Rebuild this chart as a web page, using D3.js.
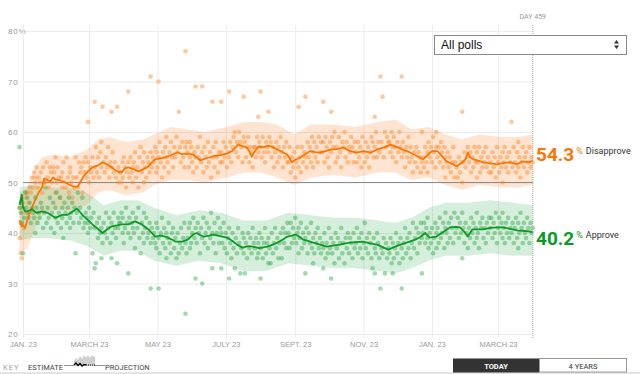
<!DOCTYPE html>
<html lang="en">
<head>
<meta charset="utf-8">
<title>Approval rating</title>
<script src="https://d3js.org/d3.v7.min.js"></script>
<style>
  body { margin: 0; background: #fff; }
  svg { display: block; font-family: Roboto, "Liberation Sans", sans-serif; }
</style>
</head>
<body>
<svg width="640" height="374"></svg>
<script>
// day 0 = Jan. 20, 2017, last day (458) = today
const disDay = [0,2,3,5,7,10,14,17,20,22,
  24,27,30,32,36,41,44,48,52,55,
  57,61,65,70,74,78,82,87,91,94,
  97,102,106,110,115,118,121,126,130,135,
  141,145,150,155,158,161,167,173,179,185,
  190,195,199,203,205,207,210,213,218,222,
  226,230,235,239,243,246,250,255,259,264,
  268,273,277,283,289,295,301,307,313,320,
  326,331,337,342,348,355,360,364,368,373,
  377,381,386,390,394,398,400,402,405,410,
  414,420,426,432,438,444,449,454,458];
const disValue = [42.5,41.3,41.5,41.0,42.7,44.5,46.6,48.0,49.0,50.8,
  50.6,50.2,51.0,50.6,50.4,50.0,49.6,49.2,49.2,50.4,
  51.2,52.2,53.0,53.4,54.0,53.6,53.0,52.2,52.0,52.8,
  53.0,52.6,52.2,52.6,53.2,54.0,54.6,54.8,55.0,55.4,
  56.0,55.6,55.7,55.5,55.0,54.4,54.8,55.2,55.4,55.7,
  56.3,57.5,57.2,56.9,56.2,55.1,56.2,57.1,57.0,57.3,
  57.0,56.5,56.0,55.5,54.0,54.5,54.9,55.6,56.2,56.0,
  55.9,56.2,56.5,56.6,56.9,56.2,55.9,56.2,55.9,56.6,
  57.0,57.5,57.0,56.5,56.0,55.2,54.6,55.4,56.2,56.2,
  55.2,54.2,53.7,53.2,53.8,54.6,55.9,55.0,54.6,54.3,
  54.0,53.8,53.6,53.9,54.0,53.6,54.2,54.0,54.3];

const appDay = [0,2,3,5,7,11,15,20,25,29,
  32,35,38,43,47,51,53,56,60,65,
  70,74,78,82,87,91,97,103,106,109,
  115,118,121,126,130,135,139,145,150,155,
  158,161,164,169,173,179,185,190,194,199,
  204,208,214,221,226,230,235,239,243,246,
  250,253,258,262,268,274,280,286,290,295,
  300,306,312,319,324,329,334,340,344,348,
  353,357,362,366,372,378,384,389,393,397,
  400,404,409,414,420,426,432,438,444,451,
  458];
const appValue = [45.6,47.6,45.2,44.3,44.3,44.7,44.0,44.3,44.0,43.4,
  43.0,43.3,43.6,43.6,44.2,44.8,44.4,43.6,42.8,41.7,
  40.8,40.0,40.7,41.3,41.5,41.7,41.7,42.3,42.0,41.7,
  40.7,40.0,39.3,39.5,39.3,38.8,38.3,38.3,38.7,39.7,
  40.0,39.6,39.3,39.5,39.7,39.4,39.1,38.4,37.7,37.1,
  37.4,37.3,37.0,37.3,37.7,38.1,38.7,39.3,39.5,39.7,
  39.2,38.7,38.4,38.1,37.7,37.3,37.5,37.7,37.9,38.1,
  38.2,38.3,38.0,37.7,37.2,36.7,37.2,37.7,38.0,38.3,
  38.7,39.1,40.0,39.1,39.3,40.2,41.1,41.2,41.1,40.2,
  39.3,40.7,40.7,40.7,41.0,41.1,41.1,40.8,40.5,40.4,
  40.2];

const disBandDay  = [0,7,14,20,30,45,60,70,80,95,110,120,135,150,165,185,200,215,230,245,260,280,300,320,335,350,365,380,395,410,430,445,458];
const disBandLow  = [36,37,41,43.5,44.5,44.5,45.5,48,48.5,47.5,48,49.5,50.5,50.5,50,51,52,52,51,49.5,51,51.5,51,52,52,50.5,51,49.5,48.5,49.5,49,49,49.5];
const disBandHigh = [48,49,53,55,55.5,55,56.5,58.5,59,58,58.5,59.5,61,60.5,60,61,62,62,61.5,59.5,61.5,61.5,61,62,62.5,60.5,61,59.5,58.5,59.5,59,59,59.5];

const appBandDay  = [0,10,25,45,60,75,90,105,120,140,160,180,200,220,240,260,280,300,320,335,350,365,380,400,420,440,458];
const appBandLow  = [38.5,39,39,38.5,37.5,35.5,36.5,36.5,34.5,33.5,34.5,34,32.5,32.5,34,33.5,33,33,32.5,32,33,34.5,35.5,35.5,36,35.5,35.5];
const appBandHigh = [49,49.5,49,49,48,45.5,46.5,46.5,45,43.5,44.5,44,42.5,42.5,44,43.5,43,43,42.5,42,43,45,46,46,46.5,46,45.5];

// individual polls
const pollDay = [0,0,1,1,2,3,3,4,5,6,7,7,8,9,10,11,12,13,14,14,15,16,17,18,19,20,21,22,23,24,25,26,27,28,
  29,30,31,32,32,33,34,35,36,37,38,38,39,40,41,42,43,44,45,45,46,47,48,49,50,51,52,53,54,55,56,57,58,59,
  60,61,61,62,63,64,65,66,67,67,68,69,70,71,72,73,73,74,75,76,77,78,79,80,81,82,82,83,84,85,86,87,88,88,89,
  90,91,92,92,93,94,95,96,97,97,98,99,100,101,101,102,103,104,105,106,107,108,109,110,111,111,112,113,114,115,116,117,117,118,119,
  120,121,122,122,123,124,124,125,126,127,128,129,130,131,131,132,133,134,135,136,137,138,139,140,141,142,143,144,145,146,147,148,148,149,
  150,151,152,152,153,154,155,156,157,157,158,159,160,161,162,163,163,164,165,166,167,168,169,170,171,172,172,173,174,175,176,177,178,179,
  180,180,181,182,183,184,185,186,187,187,188,189,190,191,192,193,194,195,196,197,198,199,200,200,201,202,203,204,205,206,207,208,209,
  210,211,212,213,213,214,215,215,216,217,218,219,220,221,222,222,223,224,225,226,227,228,229,230,231,232,233,234,235,236,237,238,239,
  240,241,242,243,244,245,246,247,248,249,249,250,251,252,253,254,255,255,256,257,258,259,260,261,262,262,263,264,265,266,267,268,269,
  270,271,271,272,273,274,275,276,277,278,278,279,280,281,282,283,284,285,286,287,288,289,290,291,292,293,294,295,296,297,298,299,
  300,301,302,303,304,305,306,307,308,309,310,311,312,313,314,315,316,317,317,318,319,320,321,322,323,324,325,326,327,328,329,
  330,331,332,333,333,334,335,336,337,338,339,340,341,341,342,343,344,345,346,347,348,349,350,351,352,353,354,355,356,357,358,359,359,
  360,361,362,363,364,364,365,366,367,368,369,370,371,372,372,373,374,375,376,377,378,379,380,380,381,382,383,384,385,386,387,388,389,
  390,391,392,393,394,395,395,396,397,398,399,400,401,402,403,404,405,406,407,408,408,409,410,411,412,413,414,415,416,417,418,419,
  420,421,422,423,424,425,426,427,428,429,430,431,431,432,433,434,435,436,437,438,439,440,441,442,443,444,445,445,446,447,448,449,450,451,452,453,454,455,456,457,458];
const pollApprove = [45,57,44,46,42,45,36,43,48,45,44,47,43,46,42,45,44,43,40,47,45,42,44,43,46,45,41,44,49,42,45,43,47,41,
  44,46,40,45,43,48,42,44,47,41,45,43,39,46,44,42,45,47,43,41,44,46,42,45,36,44,48,42,45,43,47,41,42,44,
  43,40,42,45,41,43,36,44,33,41,34,42,39,43,40,35,41,38,42,40,44,39,41,43,38,35,42,40,44,41,39,34,43,41,42,
  42,44,40,43,38,41,45,42,32,40,43,39,42,44,41,40,37,43,41,45,39,36,42,40,44,38,41,43,39,40,42,29,38,41,39,
  40,38,42,37,41,29,39,36,40,43,38,41,37,40,35,39,42,38,36,40,41,37,39,35,40,36,38,41,37,39,42,24,38,36,
  39,41,37,42,38,40,43,39,31,41,38,42,40,36,41,30,39,43,38,40,42,37,41,39,44,33,40,38,42,36,40,43,38,41,
  33,40,38,42,37,40,36,39,31,41,38,35,40,37,33,39,36,41,38,32,37,40,36,39,32,38,35,40,37,39,36,41,38,
  37,39,35,38,36,40,31,37,39,35,38,41,36,38,34,39,37,34,40,36,38,41,37,39,35,38,40,35,41,38,40,37,42,
  40,37,42,38,41,39,43,38,40,36,41,39,42,37,40,38,32,39,41,36,40,38,42,37,34,39,36,40,38,41,37,39,36,
  38,33,37,40,35,38,36,41,37,31,39,36,38,34,40,37,39,35,38,41,36,38,34,39,37,40,36,39,38,35,40,37,
  38,41,36,39,37,40,35,38,42,37,39,36,40,38,35,33,39,32,37,36,40,38,35,29,37,36,39,32,38,35,37,
  36,39,34,32,38,35,37,40,36,38,34,39,29,37,35,38,41,36,39,37,40,35,38,42,37,39,41,36,40,38,42,32,39,
  40,42,38,41,39,43,37,40,38,41,36,39,42,40,37,41,38,43,39,40,42,37,41,44,40,38,42,39,43,41,38,44,40,
  41,43,39,42,40,35,44,41,38,42,40,37,41,39,43,40,42,38,41,44,39,40,37,42,41,43,39,41,38,42,40,43,
  41,43,39,42,40,44,38,41,43,40,42,39,44,41,38,42,40,43,39,41,40,42,38,41,43,39,42,37,40,44,41,38,42,40,39,43,41,38,42,40,41];
const pollDisapprove = [45,39,42,36,35,44,46,41,47,48,44,48,46,49,48,51,49,52,51,50,53,49,51,50,52,48,53,50,50,54,51,49,53,52,
  50,53,52,48,55,50,53,51,47,51,52,49,54,50,49,55,51,48,52,53,50,47,51,49,55,51,49,54,52,53,48,54,52,55,
  51,62,54,50,53,52,55,51,66,53,57,52,55,51,56,58,53,65,54,52,55,53,57,51,54,64,53,56,52,54,51,65,53,50,52,
  52,50,54,51,55,53,49,52,68,54,51,55,52,50,53,54,56,51,53,49,55,57,52,54,50,56,53,51,55,54,52,71,56,53,55,
  54,57,52,56,53,70,55,58,54,51,56,53,57,55,59,54,52,56,58,55,53,57,55,59,56,64,57,54,58,55,53,76,57,58,
  56,53,58,55,57,54,52,56,69,55,53,57,55,59,54,69,56,52,57,55,53,58,54,56,51,66,55,57,53,58,55,52,56,54,
  66,56,54,58,55,57,53,56,68,55,58,54,57,59,60,56,58,55,60,58,57,54,67,59,58,55,57,59,54,57,56,53,57,
  57,55,59,63,56,58,68,57,55,59,56,54,58,57,64,56,59,58,55,57,53,56,58,54,57,55,59,56,53,57,55,58,54,
  54,57,52,55,53,56,51,54,57,65,53,55,52,57,54,56,67,55,53,58,55,57,54,59,56,53,58,55,57,54,59,56,58,
  56,66,58,54,59,57,55,53,58,64,56,59,57,60,54,57,55,59,56,53,58,57,60,55,58,54,57,56,59,57,54,58,
  56,54,58,55,57,53,59,56,54,58,55,57,53,56,59,58,55,63,57,60,55,58,56,71,58,67,55,60,57,59,58,
  58,56,60,57,55,59,57,54,58,56,60,57,71,55,58,56,53,57,55,59,54,57,55,52,56,54,57,53,56,55,52,60,54,
  55,53,57,54,56,52,58,55,57,54,59,56,53,57,60,55,57,54,58,56,53,57,55,51,54,56,53,55,52,54,57,51,54,
  53,51,55,52,54,64,50,54,56,53,55,57,54,56,52,55,53,57,54,51,56,54,57,52,55,53,56,54,57,53,55,52,
  54,52,56,53,55,51,57,54,52,55,53,56,50,54,57,53,55,52,56,54,62,53,57,54,52,56,53,58,55,51,54,57,53,55,56,52,54,57,53,55,54];

const yTicks = [20, 30, 40, 50, 60, 70, 80];
const xTickDates = ['2017-01-23','2017-03-23','2017-05-23','2017-07-23','2017-09-23','2017-11-23','2018-01-23','2018-03-23'];
const xTickLabels = ['JAN. 23','MARCH 23','MAY 23','JULY 23','SEPT. 23','NOV. 23','JAN. 23','MARCH 23'];
const todayLabel = 'DAY 459';
const disLast = 54.3, appLast = 40.2;

const orange = '#ff7400', green = '#0a9a25';
const svg = d3.select('svg');
const start = new Date(2017, 0, 20);
const dayDate = d => d3.timeDay.offset(start, d);
const parse = d3.timeParse('%Y-%m-%d');

const xScale = d3.scaleTime().domain([start, dayDate(458)]).range([19.6, 532.8]);
const yScale = d3.scaleLinear().domain([20, 80]).range([334, 31]);
const gridLeft = xScale(parse(xTickDates[0]));
const xEnd = xScale(dayDate(458));

//gridlines + y labels
const yAxis = svg.append('g')
  .attr('transform', 'translate(' + gridLeft + ',0)')
  .call(d3.axisLeft(yScale).tickValues(yTicks).tickSize(-(xEnd - gridLeft))
    .tickFormat(d => d === 80 ? d + '%' : d));
yAxis.select('.domain').remove();
yAxis.selectAll('line').attr('stroke', '#ececec');
yAxis.selectAll('text').attr('x', 8 - gridLeft).attr('text-anchor', 'start')
  .attr('fill', '#9a9a9a').style('font-size', '8px').style('letter-spacing', '0.8px');

const xAxis = svg.append('g')
  .attr('transform', 'translate(0,338)')
  .call(d3.axisBottom(xScale).tickValues(xTickDates.map(parse)).tickSize(-313)
    .tickFormat((d, i) => xTickLabels[i]));
xAxis.select('.domain').remove();
xAxis.selectAll('line').attr('stroke', '#ececec');
xAxis.selectAll('text').attr('fill', '#9a9a9a').style('font-size', '7.5px').attr('y', 4);

// bands
function band(days, lo, hi, color, op) {
  const area = d3.area()
    .x((d, i) => xScale(dayDate(days[i])))
    .y0((d, i) => yScale(lo[i]))
    .y1((d, i) => yScale(hi[i]));
  svg.append('path').datum(days).attr('d', area).attr('fill', color).attr('fill-opacity', op);
}
band(disBandDay, disBandLow, disBandHigh, '#ff7a1a', 0.2);
band(appBandDay, appBandLow, appBandHigh, '#1aa83c', 0.18);

// 50% line
svg.append('line')
  .attr('x1', gridLeft).attr('x2', xEnd)
  .attr('y1', yScale(50)).attr('y2', yScale(50))
  .attr('stroke', '#8a8a8a').attr('stroke-width', 1);

// poll dots
const polls = pollDay.map((d, i) => ({day: d, app: pollApprove[i], dis: pollDisapprove[i]}));
svg.append('g').selectAll('circle').data(polls).join('circle')
  .attr('cx', d => xScale(dayDate(d.day)))
  .attr('cy', d => yScale(d.dis))
  .attr('r', 2.3)
  .attr('fill', '#ff8a2a').attr('fill-opacity', 0.46);
svg.append('g').selectAll('circle').data(polls).join('circle')
  .attr('cx', d => xScale(dayDate(d.day)))
  .attr('cy', d => yScale(d.app))
  .attr('r', 2.3)
  .attr('fill', '#25a240').attr('fill-opacity', 0.42);

// estimate lines
function trend(days, vals, color) {
  const line = d3.line()
    .x((d, i) => xScale(dayDate(days[i])))
    .y((d, i) => yScale(vals[i]));
  svg.append('path').datum(days).attr('d', line)
    .attr('fill', 'none').attr('stroke', color).attr('stroke-width', 1.8)
    .attr('stroke-linejoin', 'round');
}
trend(disDay, disValue, orange);
trend(appDay, appValue, green);

// today line
svg.append('line')
  .attr('x1', xEnd).attr('x2', xEnd).attr('y1', 25).attr('y2', 338)
  .attr('stroke', '#aaa').attr('stroke-dasharray', '1,1');
svg.append('text').attr('x', xEnd).attr('y', 19).attr('text-anchor', 'middle')
  .attr('fill', '#9a9a9a').style('font-size', '7px').text(todayLabel);

// dropdown
svg.append('rect').attr('x', 434.5).attr('y', 35.5).attr('width', 192).attr('height', 19)
  .attr('fill', '#fff').attr('stroke', '#8a8a8a');
svg.append('text').attr('x', 441).attr('y', 49).attr('fill', '#111')
  .style('font-family', '"Liberation Sans", Arial, sans-serif').style('font-size', '12px').text('All polls');
svg.append('path').attr('d', 'M614,43.5 L616.5,40 L619,43.5 Z M614,45.5 L616.5,49 L619,45.5 Z').attr('fill', '#333');

// end labels
function endLabel(val, baseline, color, name) {
  const t = svg.append('text').attr('x', 536).attr('y', baseline);
  t.append('tspan').attr('fill', color).style('font-size', '19px').style('font-weight', 700).text(val.toFixed(1));
  t.append('tspan').attr('fill', color).attr('dx', 2).attr('dy', -7).style('font-size', '9px').text('%');
  t.append('tspan').attr('fill', '#333').attr('dx', 3).style('font-size', '9px').text(name);
}
endLabel(disLast, yScale(disLast) + 0.5, orange, 'Disapprove');
endLabel(appLast, yScale(appLast) + 13, green, 'Approve');

// key
const key = svg.append('g').style('font-size', '7.5px');
key.append('text').attr('x', 3).attr('y', 370).attr('fill', '#a0a0a0').style('letter-spacing', '1px').text('KEY');
key.append('text').attr('x', 28).attr('y', 370).attr('fill', '#444').text('ESTIMATE');
key.append('text').attr('x', 105).attr('y', 370).attr('fill', '#444').text('PROJECTION');
key.append('path')
  .attr('d', 'M74,366 L74,361 L76,358 L78,360 L80,356 L82,359 L84,355 L86,358 L88,355 L90,358 L92,355 L94,357 L95,355 L95,366 Z')
  .attr('fill', '#cfcfcf');
key.append('path').attr('d', 'M64,365.5 L74,365.5 M95,365.5 L105,365.5').attr('stroke', '#777').attr('stroke-width', 0.8);
key.append('path').attr('d', 'M74,365 L76,363 L78,365.5 L80,363.5 L82,366 L84,364.5 L86,365').attr('fill', 'none')
  .attr('stroke', '#000').attr('stroke-width', 1.4);
key.append('path').attr('d', 'M86,365 L95,365').attr('stroke', '#000').attr('stroke-width', 1.2).attr('stroke-dasharray', '1,1');

// bottom strip and buttons
svg.append('rect').attr('x', 0).attr('y', 372).attr('width', 640).attr('height', 2).attr('fill', '#e4e4e4');
svg.append('rect').attr('x', 453).attr('y', 358.5).attr('width', 86).attr('height', 14).attr('fill', '#333');
svg.append('rect').attr('x', 539.5).attr('y', 358.5).attr('width', 87).attr('height', 13.5)
  .attr('fill', '#fff').attr('stroke', '#999');
svg.append('text').attr('x', 496).attr('y', 368.5).attr('text-anchor', 'middle').attr('fill', '#fff')
  .style('font-size', '7.5px').style('font-weight', 700).text('TODAY');
svg.append('text').attr('x', 583).attr('y', 368.5).attr('text-anchor', 'middle').attr('fill', '#333')
  .style('font-size', '7.5px').text('4 YEARS');
</script>
</body>
</html>
